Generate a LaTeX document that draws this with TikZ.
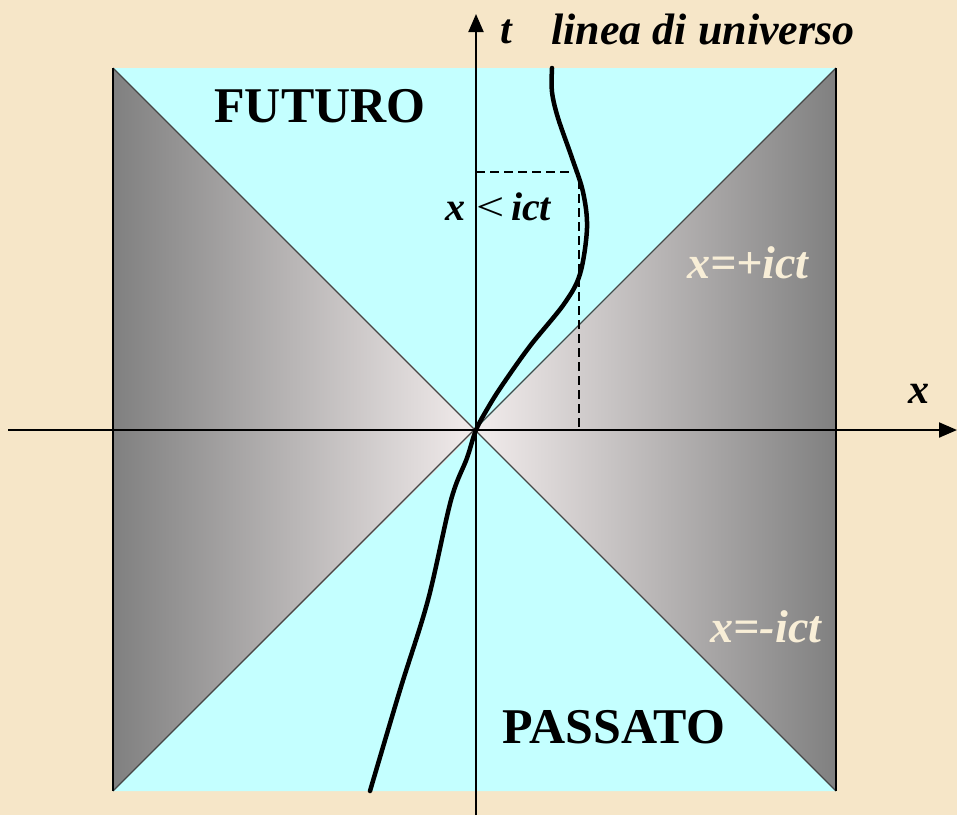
\documentclass[tikz,border=0pt]{standalone}
\usepackage{fontspec}
\setmainfont{Liberation Serif}
\usetikzlibrary{arrows.meta}
\definecolor{parch}{RGB}{246,230,200}
\definecolor{cyanlite}{RGB}{196,255,255}
\definecolor{coneline}{RGB}{70,70,70}
\definecolor{cream}{RGB}{248,238,215}
\definecolor{gdark}{RGB}{128,128,128}
\definecolor{glight}{RGB}{242,236,236}
\tikzset{
  axisline/.style={line width=2pt,-{Triangle[width=15pt,length=18pt]}},
  bigcap/.style={font=\fontsize{50}{50}\selectfont\bfseries},
  bilabel/.style={font=\fontsize{42}{42}\selectfont\bfseries\itshape},
  creamlabel/.style={font=\fontsize{46}{46}\selectfont\bfseries\itshape,text=cream},
  guide/.style={line width=2pt,dash pattern=on 9pt off 5pt},
  worldline/.style={line width=4.5pt,line cap=round,line join=round}
}
\begin{document}
\begin{tikzpicture}[x=1pt,y=-1pt]
\fill[parch] (0,0) rectangle (957,815);
\useasboundingbox (0,0) rectangle (957,815);
\coordinate (TL) at (113,68);
\coordinate (TR) at (836,68);
\coordinate (BL) at (113,791);
\coordinate (BR) at (836,791);
\coordinate (O) at (476,430);
% regions
\fill[cyanlite] (TL)--(TR)--(O)--cycle;
\fill[cyanlite] (BL)--(BR)--(O)--cycle;
\shade[left color=gdark,right color=glight] (TL)--(O)--(BL)--cycle;
\shade[left color=glight,right color=gdark] (TR)--(O)--(BR)--cycle;
\draw[coneline,line width=1.3pt] (TL)--(BR) (TR)--(BL);
\draw[black,line width=2.5pt] (TL)--(BL) (TR)--(BR);
% dashed guides
\coordinate (D1) at (476,172);
\coordinate (D2) at (574,172);
\coordinate (D3) at (579,180);
\coordinate (D4) at (579,430);
\draw[guide] (D1)--(D2);
\draw[guide] (D3)--(D4);
% axes
\coordinate (XS) at (8,430);
\coordinate (XE) at (957,430);
\coordinate (TS) at (476,815);
\coordinate (TE) at (476,14);
\draw[axisline] (XS)--(XE);
\draw[axisline] (TS)--(TE);
% world line
\draw[worldline] plot[smooth,tension=0.55] coordinates {(370,791) (400,690) (428,600) (451,500) (467,458) (476,430) (489,406) (503,384) (530,346) (564,304) (580,274) (587,228) (583,192) (572,158) (558,118) (552,92) (552,68)};
% labels
\node[bilabel] (tlab) at (506,32) {t};
\node[bilabel,font=\fontsize{44}{44}\selectfont\bfseries\itshape] (wl) at (703,29) {linea di universo};
\node[bigcap] (fut) at (320,106) {FUTURO};
\node[bigcap] (pas) at (614,727) {PASSATO};
\node[bilabel] (xl) at (919,394) {x};
\node[font=\fontsize{40}{40}\selectfont] (ineq) at (499,207) {\textbf{\textit{x}}\hspace{11pt}\scalebox{1.25}[1]{<}\hspace{6pt}\textbf{\textit{ict}}};
\node[creamlabel] (cp) at (748,263) {x=+ict};
\node[creamlabel] (cm) at (766,627) {x=-ict};
\end{tikzpicture}
\end{document}
